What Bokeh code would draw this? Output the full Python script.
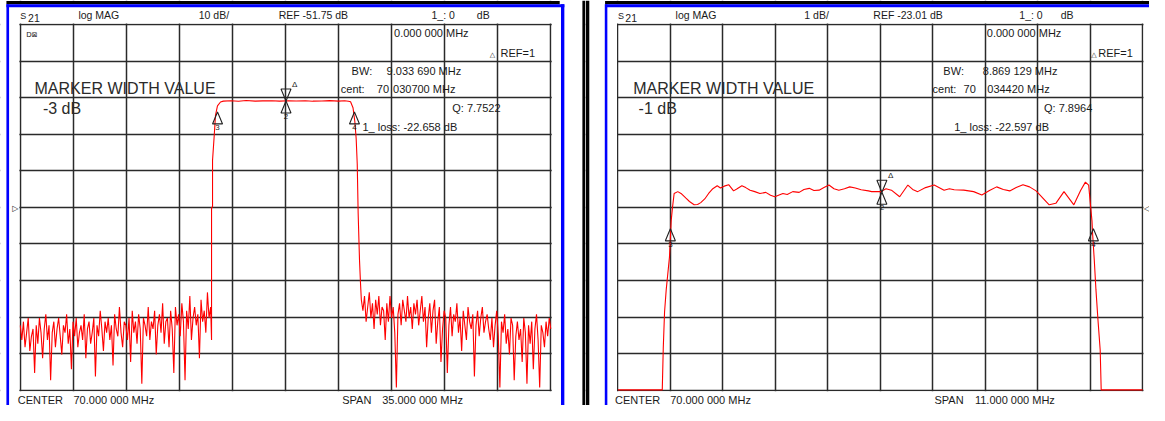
import numpy as np
from bokeh.plotting import figure
from bokeh.layouts import row
from bokeh.models import Range1d, FixedTicker, Label, BoxAnnotation
from bokeh.embed import file_html
from bokeh.resources import INLINE
from bokeh.core.properties import value

# ---------------- data ----------------
# Left analyser screen: S21 log MAG, 10 dB/div, REF -51.75 dB, CENTER 70 MHz, SPAN 35 MHz
left_x_range = [52.5, 87.5]
left_y_range = [-101.75, -1.75]
left_x_div = 3.5
left_y_div = 10.0

left_noise_low_span = [52.5, 65.06]
left_noise_low_db = [
    -84, -88, -83, -90, -86, -82, -91, -87, -85, -97, -84, -89, -82, -86, -93, -85, -81, -88, -84, -99,
    -86, -83, -90, -85, -82, -87, -92, -84, -86, -81, -89, -85, -96, -83, -87, -82, -90, -86, -84, -88,
    -81, -93, -85, -83, -89, -86, -82, -98, -84, -87, -80, -85, -91, -83, -86, -82, -88, -84, -95, -81,
    -85, -87, -79, -86, -90, -83, -84, -88, -82, -94, -80, -86, -83, -89, -81, -85, -100, -82, -84, -87,
    -79, -88, -83, -85, -80, -92, -84, -81, -86, -78, -89, -83, -82, -90, -80, -85, -97, -79, -84, -81,
    -87, -78, -83, -99, -80, -85, -76, -88, -82, -79, -84, -81, -93, -77, -83, -80, -86, -75, -82, -79,
]
left_filter_mhz = [65.12, 65.12, 65.185, 65.185, 65.30, 65.38, 65.51, 65.71,
                   65.9, 66.4, 66.9, 67.4, 68.0, 68.5, 69.1, 69.6, 70.2, 70.7, 71.3, 71.8,
                   72.4, 72.9, 73.5, 73.9, 74.15,
                   74.29, 74.45, 74.57, 74.66, 74.73, 74.79, 74.88, 74.94]
left_filter_db = [-88.0, -52.0, -51.5, -38.9, -31.9, -26.6, -24.0, -22.95,
                  -22.7, -22.6, -22.72, -22.55, -22.7, -22.64, -22.6, -22.7, -22.62, -22.68, -22.6, -22.72,
                  -22.66, -22.58, -22.7, -22.62, -22.75,
                  -22.9, -24.5, -28.2, -33.0, -39.9, -53.3, -66.2, -72.0]
left_noise_high_span = [75.0, 87.5]
left_noise_high_db = [
    -77, -80, -76, -83, -79, -75, -82, -78, -85, -77, -81, -76, -84, -79, -80, -88, -78, -83, -76, -82,
    -79, -86, -101, -81, -78, -84, -77, -80, -83, -76, -82, -79, -85, -78, -81, -77, -84, -80, -76, -83,
    -79, -90, -82, -78, -86, -80, -77, -89, -83, -79, -94, -85, -80, -82, -97, -84, -79, -87, -81, -83,
    -78, -86, -82, -91, -80, -84, -88, -79, -83, -85, -81, -98, -84, -80, -87, -82, -79, -86, -83, -81,
    -85, -88, -82, -90, -84, -80, -87, -101, -83, -86, -81, -89, -85, -92, -82, -84, -99, -87, -83, -88,
    -85, -94, -82, -86, -100, -84, -89, -83, -96, -85, -81, -88, -101, -84, -86, -90, -83, -87, -82, -85,
]
left_marker_mhz = [70.0307, 70.0307, 65.5139, 74.5475]
left_marker_db = [-22.658, -22.658, -25.658, -25.658]

# Right analyser screen: S21 log MAG, 1 dB/div, REF -23.01 dB, CENTER 70 MHz, SPAN 11 MHz
right_x_range = [64.5, 75.5]
right_y_range = [-28.01, -18.01]
right_x_div = 1.1
right_y_div = 1.0

right_mhz = [64.5, 65.43, 65.451, 65.478, 65.513, 65.581, 65.617, 65.643, 65.679, 65.755,
             65.823, 65.927, 66.0, 66.098, 66.17, 66.237, 66.32, 66.402, 66.49, 66.582,
             66.650, 66.73, 66.822, 66.925, 67.0, 67.099, 67.18, 67.271, 67.37, 67.477,
             67.6, 67.7, 67.788, 67.959, 68.05, 68.166, 68.3, 68.4, 68.511, 68.61,
             68.718, 68.82, 68.925, 69.03, 69.132, 69.25, 69.36, 69.477, 69.6, 69.752,
             69.820, 70.015, 70.12, 70.234, 70.407, 70.579, 70.68, 70.786, 70.95, 71.131,
             71.338, 71.45, 71.55, 71.751, 71.958, 72.130, 72.29, 72.440, 72.58, 72.715,
             72.85, 72.992, 73.13, 73.267, 73.542, 73.681, 73.852, 74.059, 74.2, 74.301,
             74.369, 74.404, 74.439, 74.452, 74.487, 74.522, 74.563, 74.611, 74.632, 75.5]
right_db = [-28.0, -28.0, -26.86, -25.87, -25.26, -24.37, -23.38, -23.03, -22.63, -22.58,
            -22.63, -22.76, -22.85, -22.94, -22.93, -22.88, -22.78, -22.63, -22.5, -22.42,
            -22.48, -22.43, -22.39, -22.56, -22.5, -22.42, -22.47, -22.54, -22.58, -22.63,
            -22.6, -22.68, -22.72, -22.63, -22.66, -22.58, -22.6, -22.52, -22.49, -22.55,
            -22.54, -22.47, -22.40, -22.5, -22.54, -22.5, -22.45, -22.48, -22.53, -22.56,
            -22.58, -22.58, -22.5, -22.54, -22.72, -22.40, -22.52, -22.58, -22.47, -22.40,
            -22.54, -22.5, -22.53, -22.54, -22.58, -22.67, -22.55, -22.45, -22.52, -22.56,
            -22.47, -22.39, -22.45, -22.56, -22.94, -22.90, -22.58, -22.94, -22.55, -22.32,
            -22.40, -22.90, -23.38, -23.73, -24.45, -25.26, -26.06, -26.91, -28.0, -28.0]
right_marker_mhz = [70.03442, 70.03442, 65.59986, 74.46899]
right_marker_db = [-22.597, -22.597, -23.597, -23.597]

marker_numbers = ["2", "3", "4"]

# ---------------- layout ----------------
# positions below are given in reference-screen pixels and mapped onto the canvas
H = 405
SX = 1149 / 1165.0


def X(x):
    return x * SX


def Y(y):
    return (y - 5) * 0.978 + 0.5


LEFT = dict(x0=0, w=585, gx=(20, 558))
RIGHT = dict(x0=585, w=564, gx=(626, 1158))
GY = (29, 403)

FONT = "Liberation Sans"
INK = "#1a1a1a"


def make_panel(pan, xr, yr, xdiv, ydiv):
    W = pan["w"]
    gl = X(pan["gx"][0]) - pan["x0"]
    gr = X(pan["gx"][1]) - pan["x0"]
    gt, gb = Y(GY[0]), Y(GY[1])
    pan.update(gl=gl, gr=gr, gt=gt, gb=gb)
    kx = (xr[1] - xr[0]) / (gr - gl)
    ky = (yr[1] - yr[0]) / (gb - gt)
    pan.update(kx=kx, ky=ky)
    p = figure(width=W, height=H,
               x_range=Range1d(xr[0] - gl * kx, xr[1] + (W - gr) * kx),
               y_range=Range1d(yr[0] - (H - gb) * ky, yr[1] + gt * ky),
               x_axis_location=None, y_axis_location=None, min_border=0,
               output_backend="svg", toolbar_location=None)
    p.background_fill_color = "white"
    p.border_fill_color = "white"
    p.outline_line_color = None
    nx = int(round((xr[1] - xr[0]) / xdiv))
    ny = int(round((yr[1] - yr[0]) / ydiv))
    p.xgrid.ticker = FixedTicker(ticks=[xr[0] + i * xdiv for i in range(0, nx + 1)])
    p.ygrid.ticker = FixedTicker(ticks=[yr[0] + i * ydiv for i in range(0, ny + 1)])
    p.grid.grid_line_color = "#2a2a2a"
    p.grid.grid_line_width = 1.5
    p.grid.grid_line_alpha = 1.0
    return p


def box_px(p, pan, x0, x1, y0, y1, color):
    """box in canvas pixels of this figure (y downward)"""
    p.add_layout(BoxAnnotation(left=x0, right=x1, top=H - y0, bottom=H - y1,
                               left_units="screen", right_units="screen",
                               top_units="screen", bottom_units="screen",
                               fill_color=color, fill_alpha=1.0, line_alpha=0.0))


def mask(p, pan):
    W = pan["w"]
    e = 0.9
    box_px(p, pan, 0, W, 0, pan["gt"] - e, "white")
    box_px(p, pan, 0, W, pan["gb"] + e, H, "white")
    box_px(p, pan, 0, pan["gl"] - e, 0, H, "white")
    box_px(p, pan, pan["gr"] + e, W, 0, H, "white")


def ref_box(p, pan, x0, x1, y0, y1, color):
    box_px(p, pan, X(x0) - pan["x0"], X(x1) - pan["x0"], Y(y0), Y(y1), color)


def add_text(p, pan, x, y, text, size=11, font=FONT, color=INK, baseline="alphabetic", align="left"):
    sy = Y(y)
    if baseline == "alphabetic":
        sy -= 0.32 * size
    p.add_layout(Label(x=X(x) - pan["x0"], y=H - sy,
                       x_units="screen", y_units="screen", text=text,
                       text_font=font, text_font_size=f"{size}px", text_color=color,
                       text_baseline=baseline, text_align=align))


def draw_markers(p, pan, mhz, db):
    kx, ky = pan["kx"], pan["ky"]
    xs, ys = [], []
    for i, (f, v) in enumerate(zip(mhz, db)):
        s = 1 if i == 0 else -1
        xs.append([f, f - 5 * kx, f + 5 * kx])
        ys.append([v, v + s * 12 * ky, v + s * 12 * ky])
    p.patches(xs, ys, fill_color=None, line_color="#222222", line_width=1.1)
    p.text(x=mhz[1:], y=db[1:], text=marker_numbers, y_offset=13,
           text_align="center", text_baseline="top",
           text_font=value(FONT), text_font_size="8px", text_color=INK)
    p.text(x=mhz[:1], y=db[:1], text=["Δ"], x_offset=6, y_offset=-12,
           text_align="left", text_baseline="bottom",
           text_font=value(FONT), text_font_size="8px", text_color=INK)


# ---------------- left panel ----------------
pL = make_panel(LEFT, left_x_range, left_y_range, left_x_div, left_y_div)
lx = np.concatenate([np.linspace(*left_noise_low_span, len(left_noise_low_db)),
                     np.array(left_filter_mhz),
                     np.linspace(*left_noise_high_span, len(left_noise_high_db))])
ly = np.concatenate([left_noise_low_db, left_filter_db, left_noise_high_db])
pL.line(lx, ly, line_color="#ff0000", line_width=1.1)
draw_markers(pL, LEFT, left_marker_mhz, left_marker_db)
mask(pL, LEFT)

ref_box(pL, LEFT, 6, 567, 5, 8.3, "#000000")
ref_box(pL, LEFT, 6, 571.7, 8.3, 11.5, "#0000ff")
ref_box(pL, LEFT, 6, 8.7, 8.3, 421, "#0000ff")
ref_box(pL, LEFT, 568.3, 571.7, 8.3, 421, "#0000ff")
box_px(pL, LEFT, X(590), LEFT["w"], 0, H, "#000000")

add_text(pL, LEFT, 20, 23, "S", size=9)
add_text(pL, LEFT, 28, 26, "21", size=10.5)
add_text(pL, LEFT, 79, 23, "log MAG", size=10.5)
add_text(pL, LEFT, 201, 23, "10 dB/", size=10.5)
add_text(pL, LEFT, 282, 23, "REF -51.75 dB", size=10.5)
add_text(pL, LEFT, 437, 23, "1_: 0", size=10.5)
add_text(pL, LEFT, 483, 23, "dB", size=10.5)
add_text(pL, LEFT, 26, 42, "D⊠", size=7, font="DejaVu Sans")
add_text(pL, LEFT, 399, 41, "0.000 000 MHz")
add_text(pL, LEFT, 496, 62, "△", size=7, font="DejaVu Sans")
add_text(pL, LEFT, 507, 62, "REF=1")
add_text(pL, LEFT, 356, 80, "BW:")
add_text(pL, LEFT, 391.5, 80, "9.033 690 MHz")
add_text(pL, LEFT, 345, 99, "cent:")
add_text(pL, LEFT, 381.5, 99, "70")
add_text(pL, LEFT, 398, 99, "030700 MHz")
add_text(pL, LEFT, 458, 118, "Q: 7.7522")
add_text(pL, LEFT, 367, 137, "1_ loss: -22.658 dB")
add_text(pL, LEFT, 34.5, 100, "MARKER WIDTH VALUE", size=16, color="#2a2a2a")
add_text(pL, LEFT, 43, 120, "-3 dB", size=16, color="#2a2a2a")
add_text(pL, LEFT, 12, 217, "▷", size=8, font="DejaVu Sans", baseline="middle")
add_text(pL, LEFT, 17.5, 417, "CENTER")
add_text(pL, LEFT, 74, 417, "70.000 000 MHz")
add_text(pL, LEFT, 346.5, 417, "SPAN")
add_text(pL, LEFT, 387, 417, "35.000 000 MHz")

# ---------------- right panel ----------------
pR = make_panel(RIGHT, right_x_range, right_y_range, right_x_div, right_y_div)
pR.line(right_mhz, right_db, line_color="#ff0000", line_width=1.1)
draw_markers(pR, RIGHT, right_marker_mhz, right_marker_db)
mask(pR, RIGHT)

box_px(pR, RIGHT, 0, X(597) - RIGHT["x0"], 0, H, "#000000")
ref_box(pR, RIGHT, 613, 1166, 5, 8.3, "#000000")
ref_box(pR, RIGHT, 613, 1166, 8.3, 11.5, "#0000ff")
ref_box(pR, RIGHT, 612.7, 615.3, 8.3, 421, "#0000ff")

add_text(pR, RIGHT, 626, 23, "S", size=9)
add_text(pR, RIGHT, 633.5, 26, "21", size=10.5)
add_text(pR, RIGHT, 684.5, 23, "log MAG", size=10.5)
add_text(pR, RIGHT, 815, 23, "1 dB/", size=10.5)
add_text(pR, RIGHT, 885, 23, "REF -23.01 dB", size=10.5)
add_text(pR, RIGHT, 1033, 23, "1_: 0", size=10.5)
add_text(pR, RIGHT, 1075, 23, "dB", size=10.5)
add_text(pR, RIGHT, 1000, 41, "0.000 000 MHz")
add_text(pR, RIGHT, 1106, 62, "△", size=7, font="DejaVu Sans")
add_text(pR, RIGHT, 1113, 62, "REF=1")
add_text(pR, RIGHT, 956, 80, "BW:")
add_text(pR, RIGHT, 996, 80, "8.869 129 MHz")
add_text(pR, RIGHT, 945, 99, "cent:")
add_text(pR, RIGHT, 976.5, 99, "70")
add_text(pR, RIGHT, 1000.5, 99, "034420 MHz")
add_text(pR, RIGHT, 1058, 118, "Q: 7.8964")
add_text(pR, RIGHT, 967, 137, "1_ loss: -22.597 dB")
add_text(pR, RIGHT, 641.5, 100, "MARKER WIDTH VALUE", size=16, color="#2a2a2a")
add_text(pR, RIGHT, 647, 120, "-1 dB", size=16, color="#2a2a2a")
add_text(pR, RIGHT, 1159.5, 217, "◁", size=8, font="DejaVu Sans", baseline="middle")
add_text(pR, RIGHT, 623, 417, "CENTER")
add_text(pR, RIGHT, 679, 417, "70.000 000 MHz")
add_text(pR, RIGHT, 947, 417, "SPAN")
add_text(pR, RIGHT, 988, 417, "11.000 000 MHz")

layout = row(pL, pR)
open("out.html", "w").write(file_html(layout, INLINE))
